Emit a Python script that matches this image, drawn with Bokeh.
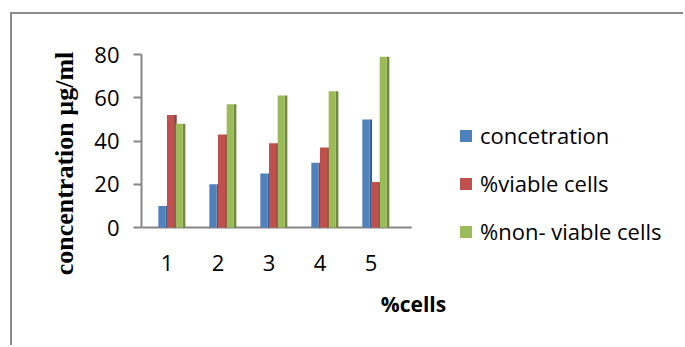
from bokeh.plotting import figure
from bokeh.models import Range1d, FixedTicker, Legend, LegendItem, ColumnDataSource
from bokeh.transform import dodge
from bokeh.embed import file_html
from bokeh.resources import INLINE

# ---- data ----
categories = [1, 2, 3, 4, 5]
concentration = [10, 20, 25, 30, 50]
viable = [52, 43, 39, 37, 21]
non_viable = [48, 57, 61, 63, 79]
series_names = ["concetration", "%viable cells", "%non- viable cells"]
y_ticks = [0, 20, 40, 60, 80]
x_title = "%cells"
y_title = "concentration µg/ml"

# ---- style ----
colors = ["#4F81BD", "#C0504D", "#9BBB59"]
sides = ["#385D8A", "#8C3836", "#71893F"]
dodges = [-0.10, 0.07, 0.24]
front_w = 0.14
side_w = 0.05

PAGE_W, PAGE_H = 685, 347
mx, my = 10, 12                    # chart border position
bw = 2                             # chart border width
ox, oy = mx + bw, my + bw
W, H = PAGE_W - ox, PAGE_H - oy
frame_left = 141 - ox
frame_top = 54 - oy
zero_px = 227 - oy
frame_bottom = 272 - oy
legend_bottom = 246 - oy
px_per_unit = (zero_px - frame_top) / 80.0
y_start = -(frame_bottom - zero_px) / px_per_unit
px_per_cat = 51.0
x_start = 0.5
x_end = x_start + (W - frame_left) / px_per_cat

p = figure(width=W, height=H, output_backend="svg", toolbar_location=None,
           x_range=Range1d(x_start, x_end), y_range=Range1d(y_start, 80),
           min_border_left=frame_left, min_border_right=0,
           min_border_top=frame_top, min_border_bottom=H - frame_bottom,
           margin=(my, 0, 0, mx),
           styles={"border-left": f"{bw}px solid #8c8c8c", "border-top": f"{bw}px solid #8c8c8c"})
p.outline_line_color = None
p.xgrid.grid_line_color = None
p.ygrid.grid_line_color = None

src = ColumnDataSource(dict(x=categories, c=concentration, v=viable, n=non_viable))

# floor line of the chart (at value 0)
ax_col = "#868686"
p.segment(x0=[x_start], x1=[categories[-1] + 0.8], y0=[0], y1=[0],
          line_color=ax_col, line_width=2)

renderers = []
for key, col, sc, d in zip(["c", "v", "n"], colors, sides, dodges):
    # darker side face for a 3-D look
    p.vbar(x=dodge("x", d + front_w / 2 + side_w / 2, range=p.x_range), top=key, bottom=0,
           width=side_w, source=src, fill_color=sc, line_color=None)
    r = p.vbar(x=dodge("x", d, range=p.x_range), top=key, bottom=0, width=front_w,
               source=src, fill_color=col, line_color=None)
    renderers.append(r)

# y axis
p.yaxis.ticker = FixedTicker(ticks=y_ticks)
p.yaxis.bounds = (0, 80)
p.yaxis.axis_line_color = ax_col
p.yaxis.axis_line_width = 2
p.yaxis.major_tick_line_color = ax_col
p.yaxis.major_tick_line_width = 2
p.yaxis.major_tick_out = 8
p.yaxis.major_tick_in = 0
p.yaxis.minor_tick_line_color = None
p.yaxis.major_label_standoff = 14
p.yaxis.major_label_text_font = "Open Sans"
p.yaxis.major_label_text_font_size = "22px"
p.yaxis.major_label_text_color = "black"
p.yaxis.axis_label = y_title
p.yaxis.axis_label_text_font = "Liberation Serif"
p.yaxis.axis_label_text_font_style = "bold"
p.yaxis.axis_label_text_font_size = "26px"
p.yaxis.axis_label_text_color = "black"
p.yaxis.axis_label_standoff = 12

# x axis (labels only; floor line drawn above)
p.xaxis.ticker = FixedTicker(ticks=categories)
p.xaxis.axis_line_color = None
p.xaxis.major_tick_line_color = None
p.xaxis.major_tick_out = 0
p.xaxis.minor_tick_line_color = None
p.xaxis.major_label_standoff = -18
p.xaxis.major_label_text_font = "Open Sans"
p.xaxis.major_label_text_font_size = "22px"
p.xaxis.major_label_text_color = "black"
p.xaxis.axis_label = x_title
p.xaxis.axis_label_text_font = "Open Sans"
p.xaxis.axis_label_text_font_style = "bold"
p.xaxis.axis_label_text_font_size = "21px"
p.xaxis.axis_label_text_color = "black"
p.xaxis.axis_label_standoff = 16

legend = Legend(items=[LegendItem(label=n, renderers=[r]) for n, r in zip(series_names, renderers)],
                location=(458 - ox - frame_left, frame_bottom - legend_bottom),
                orientation="vertical",
                glyph_width=15, glyph_height=15, label_standoff=7,
                label_height=26, spacing=18, padding=0, margin=0,
                border_line_color=None, background_fill_alpha=0,
                label_text_font="Open Sans", label_text_font_size="22px",
                label_text_color="black")
p.add_layout(legend)

open("out.html", "w").write(file_html(p, INLINE))
